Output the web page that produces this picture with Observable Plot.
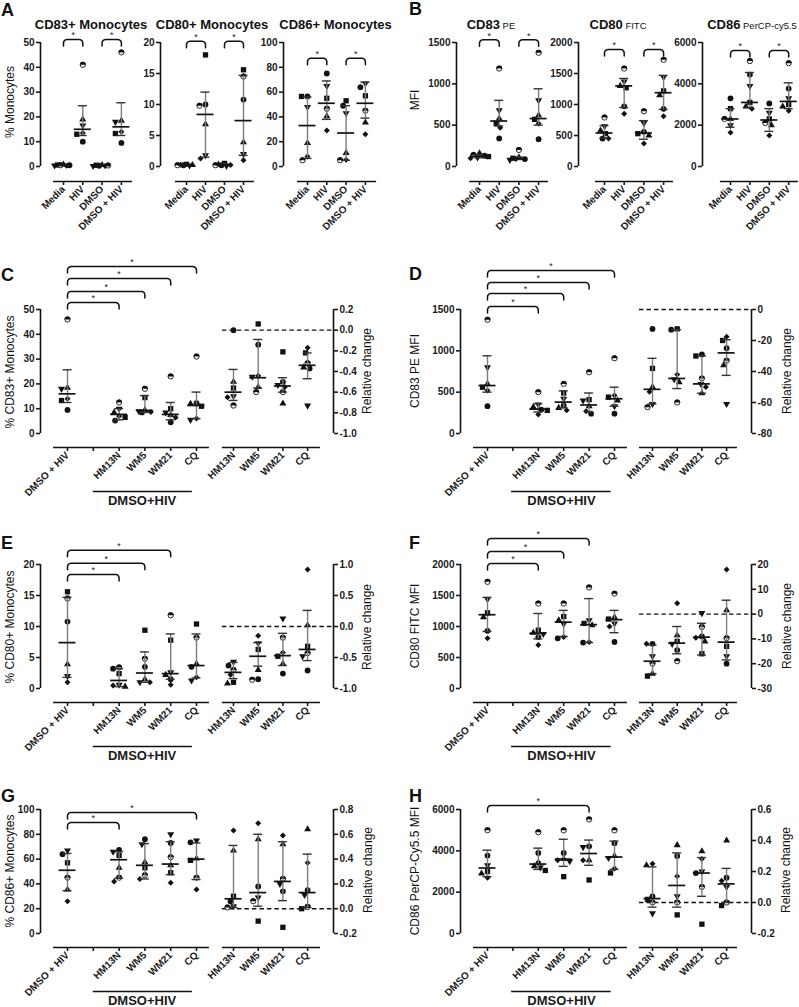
<!DOCTYPE html>
<html><head><meta charset="utf-8">
<script src="https://cdn.jsdelivr.net/npm/d3@7"></script>
<script src="https://cdn.jsdelivr.net/npm/@observablehq/plot@0.6"></script>
<style>
body{margin:0;background:#fff;}
#root{position:relative;width:799px;height:1007px;overflow:hidden;font-family:"Liberation Sans",Arial,Helvetica,sans-serif;}
#root svg{position:absolute;overflow:visible;}
</style></head><body><div id="root"></div>
<script>
// ---------- DATA ----------
// donor order in every value row: circle, square, triangle, triangle-down, diamond, half-filled circle
const donors = ["circle","square","triangle","triangleDown","diamond","half"];

const catsA = ["Media","HIV","DMSO","DMSO + HIV"];
const catsLeft = ["DMSO + HIV","","HM13N","WM5","WM21","CQ"];
const catsRight = ["HM13N","WM5","WM21","CQ"];

const ticksA83 = [0,10,20,30,40,50];
const ticksA80 = [0,5,10,15,20];
const ticksA86 = [0,20,40,60,80,100];
const ticksB83 = [0,500,1000,1500];
const ticksB80 = [0,500,1000,1500,2000];
const ticksB86 = [0,2000,4000,6000];
const ticksC = [0,10,20,30,40,50];
const ticksCr = [-1.0,-0.8,-0.6,-0.4,-0.2,0.0,0.2];
const ticksD = [0,500,1000,1500];
const ticksDr = [-80,-60,-40,-20,0];
const ticksE = [0,5,10,15,20];
const ticksEr = [-1.0,-0.5,0.0,0.5,1.0];
const ticksF = [0,500,1000,1500,2000];
const ticksFr = [-30,-20,-10,0,10,20];
const ticksG = [0,20,40,60,80,100];
const ticksGr = [-0.2,0.0,0.2,0.4,0.6,0.8];
const ticksH = [0,2000,4000,6000];
const ticksHr = [-0.2,0.0,0.2,0.4,0.6];

// Panel A
const a83 = [[0.5,0.6,0.8,0.4,0.3,0.5],[10,13,19,16.5,13.5,41],[0.3,0.5,0.6,0.2,0.2,0.4],[9.5,13.3,18.5,18,14,46]];
const a83Mid = [0.5,15,0.35,16], a83Lo = [0.3,12.5,0.2,12.5], a83Hi = [0.7,24.5,0.5,25.7];
const a80 = [[0.2,0.35,0.25,0.15,0.3,0.2],[10,18,6.8,1.8,1.3,9.8],[0.2,0.5,0.3,0.1,0.25,0.2],[10.8,15.6,3.9,2,1,14.5]];
const a80Mid = [0.25,8.4,0.25,7.4], a80Lo = [0.15,1.5,0.15,1.8], a80Hi = [0.3,12,0.4,14.7];
const a86 = [[56.5,56.5,19,48,8,5],[75,55,40.5,65,29,46.5],[49,53,11,43,5.5,5],[64,57,35.5,67,26,45]];
const a86Mid = [33,51,27,51], a86Lo = [6.5,38,5,39], a86Hi = [56,69,49,68];
// Panel B
const b83 = [[130,120,160,110,100,140],[340,520,580,680,470,1185],[90,100,110,80,90,200],[330,570,620,800,520,1375]];
const b83Mid = [125,550,95,580], b83Lo = [105,490,85,500], b83Hi = [145,800,115,940];
const b80 = [[450,530,580,650,450,790],[970,1270,1300,1370,850,1580],[560,530,500,700,370,890],[930,1220,1150,1440,810,1720]];
const b80Mid = [540,1300,540,1190], b80Lo = [460,950,440,920], b80Hi = [660,1420,740,1470];
const b86 = [[3300,2800,2300,2000,1650,2300],[4450,3100,2900,3900,2800,5100],[3050,2300,2000,2600,1500,2100],[3770,3000,2900,3300,2700,5000]];
const b86Mid = [2300,3100,2250,3150], b86Lo = [1900,2850,1700,2800], b86Hi = [2800,4550,2800,4050];
// Panel C
const c83 = [[9.5,13.3,18.5,18,14,46],null,[5.2,6.5,8.5,10,7,12.5],[8.5,14.5,9.5,9,8.7,18],[4.5,10,7.5,8.5,6.5,23],[12.2,11,12,5.5,6,31]];
const c83Mid = [16,null,7.7,9.3,7.7,11.3], c83Lo = [12.5,null,5.5,8.5,5.5,6], c83Hi = [25.7,null,10,15.3,12.5,16.7];
const c83r = [[0.0,-0.56,-0.5,-0.64,-0.65,-0.73],[-0.14,0.06,-0.55,-0.45,-0.44,-0.6],[-0.5,-0.21,-0.71,-0.53,-0.55,-0.6],[-0.37,-0.22,-0.36,-0.73,-0.17,-0.32]];
const c83rMid = [-0.6,-0.46,-0.54,-0.34], c83rLo = [-0.68,-0.56,-0.6,-0.47], c83rHi = [-0.38,-0.09,-0.46,-0.22];
// Panel D
const d83 = [[330,560,600,800,520,1375],null,[290,280,320,350,230,500],[340,490,310,420,280,600],[240,410,330,400,270,740],[240,440,400,330,460,910]];
const d83Mid = [580,null,295,380,345,420], d83Lo = [500,null,260,310,260,330], d83Hi = [940,null,360,515,490,560];
const d83r = [[-12.5,-38,-50,-61,-53,-63],[-13,-12.5,-47,-45,-42,-60],[-29,-30,-54,-48,-50,-44.5],[-25,-20,-36,-61,-17.5,-33]];
const d83rMid = [-51.5,-44.5,-48,-28], d83rLo = [-61,-51,-54,-42.5], d83rHi = [-31.5,-13,-30,-19.5];
// Panel E
const e80 = [[10.8,15.6,3.9,2,1,14.5],null,[3.2,2.4,0.3,0.6,0.5,3.4],[3.5,9.4,1.5,1,1,4.8],[1.5,7.8,2.2,2.6,0.6,11.8],[3.5,10.4,4,1.3,1.8,8.2]];
const e80Mid = [7.4,null,1.3,2.5,2.4,3.7], e80Lo = [1.8,null,0.3,1,1.5,1.7], e80Hi = [14.7,null,3.2,5.9,8.8,8.8];
const e80r = [[-0.63,-0.9,-0.92,-0.57,-0.78,-0.7],[-0.85,-0.37,-0.7,-0.27,-0.15,-0.86],[-0.76,-0.48,-0.6,0.13,-0.42,-0.18],[-0.71,-0.32,0.02,-0.48,0.92,-0.43]];
const e80rMid = [-0.74,-0.48,-0.47,-0.37], e80rLo = [-0.84,-0.64,-0.63,-0.55], e80rHi = [-0.58,-0.26,-0.11,0.26];
// Panel F
const f80 = [[930,1220,1150,1440,810,1720],null,[830,940,900,880,700,1370],[810,1160,1100,1040,830,1370],[740,1050,1020,1100,750,1630],[750,1120,1150,1050,1000,1530]];
const f80Mid = [1190,null,890,1070,1030,1110], f80Lo = [920,null,800,840,740,900], f80Hi = [1470,null,1210,1260,1450,1260];
const f80r = [[-12,-25,-24,-17,-12,-20],[-14.5,-11,-8.5,-12,4.4,-19],[-9,-16,-11,0.4,-9.5,-5.2],[-20,-13,1.6,-17,18,-9.7]];
const f80rMid = [-19,-11.7,-9.3,-11.3], f80rLo = [-24,-16,-16.5,-18.5], f80rHi = [-12.5,-5,-3.7,5.6];
// Panel G
const g86 = [[64,57,35.5,67,26,45],null,[67.5,63,53,66,42,45],[76,53,57.5,72,44,47],[73,49,55,80,41,61.5],[73.5,59,60.5,75,35.5,45]];
const g86Mid = [51,null,59.5,55,56,60], g86Lo = [34.5,null,44.5,44,47.5,43.5], g86Hi = [64.5,null,66,72.5,74,73];
const g86r = [[0.06,0.1,0.47,0.02,0.63,0.01],[0.18,-0.1,0.56,0.09,0.69,0.06],[0.14,-0.15,0.52,0.2,0.59,0.24],[0.15,0.0,0.64,0.11,0.37,0.015]];
const g86rMid = [0.08,0.13,0.22,0.13], g86rLo = [0.01,0.02,0.065,0.01], g86rHi = [0.51,0.6,0.54,0.44];
// Panel H
const h86 = [[3770,3000,2900,3300,2700,5000],null,[3900,3050,3250,3200,3450,4900],[3900,2750,3600,3500,3550,4990],[4220,2590,3550,4180,3550,5520],[4370,2930,3750,3650,3150,4990]];
const h86Mid = [3170,null,3360,3600,3870,3700], h86Lo = [2750,null,3100,3250,3300,3100], h86Hi = [4030,null,4130,4560,4520,4470];
const h86r = [[0.04,0.02,0.24,-0.07,0.25,0.0],[0.3,-0.08,0.37,0.04,0.17,0.0],[0.19,-0.14,0.33,0.2,0.28,0.1],[0.16,-0.02,0.4,0.1,0.14,0.0]];
const h86rMid = [0.025,0.11,0.19,0.12], h86rLo = [-0.03,-0.03,0.04,0.0], h86rHi = [0.23,0.32,0.29,0.22];

// significance brackets: [from category, to category, level in data units]
const brA83 = [[0,1,51.2],[2,3,51.2]];
const brA80 = [[0,1,20.2],[2,3,20.2]];
const brA86 = [[0,1,87.3],[2,3,87.3]];
const brB83 = [[0,1,1533],[2,3,1533]];
const brB80 = [[0,1,1887],[2,3,1887]];
const brB86 = [[0,1,5614],[2,3,5614]];
const brC = [[0,2,52.8],[0,3,57.3],[0,4,62.5],[0,5,67.3]];
const brD = [[0,2,1537],[0,3,1694],[0,4,1827],[0,5,1972]];
const brE = [[0,2,18.4],[0,3,20.2],[0,4,22.3]];
const brF = [[0,2,2016],[0,3,2210],[0,4,2420]];
const brG = [[0,2,89.5],[0,5,97.6]];
const brH = [[0,4,6190]];

// ---------- RENDERING ----------
const FONT = '"Liberation Sans", Arial, Helvetica, sans-serif';
const root = document.getElementById("root");
const s3 = Math.sqrt(3);
const triDown = {draw(ctx, size){ const y = -Math.sqrt(size/(s3*3)); ctx.moveTo(0,-y*2); ctx.lineTo(-s3*y,y); ctx.lineTo(s3*y,y); ctx.closePath(); }};
const halfTop = {draw(ctx, size){ const r = Math.sqrt(size/Math.PI); ctx.moveTo(-r,0); ctx.arc(0,0,r,Math.PI,2*Math.PI); ctx.closePath(); }};
const symOf = {circle:"circle", square:"square", triangle:"triangle", triangleDown: triDown, diamond:"diamond2"};
const rOf = {circle:2.9, square:3.0, triangle:2.6, triangleDown:2.6, diamond:2.7};
const fmt1 = d => d.toFixed(1), fmt0 = d => d.toFixed(0);

function swarm(vals, pxPerUnit) {
  const d = 5.5, off = vals.map(() => 0), placed = [];
  const order = vals.map((v,i) => i).sort((a,b) => vals[b]-vals[a]);
  const cands = [0]; for (let k=1;k<=9;k++){ cands.push(-k, k); }
  for (const i of order) {
    const py = vals[i]*pxPerUnit;
    let best = 0, bestD = -1;
    for (const c of cands) {
      const md = placed.length ? Math.min(...placed.map(p => Math.hypot(p.x-c, p.y-py))) : Infinity;
      if (md >= d) { best = c; bestD = Infinity; break; }
      if (md > bestD) { bestD = md; best = c; }
    }
    off[i] = best; placed.push({x: best, y: py});
  }
  return off;
}

function panel(cfg) {
  const {axisPx, side, cat0Px, stepPx, xLine, topPx, yMin, yMax, yTicks, fmt = fmt0, cats, values, mid, lo, hi,
         brackets = [], dashed = null, group = null, offset = 14} = cfg;
  const dataH = 124, upp = (yMax - yMin)/dataH;
  const yB = yMin - offset*upp;
  const mT = 60, mB = 90, mL = 50, mR = 50;
  const xlPx = cat0Px + xLine[0]*stepPx, xrPx = cat0Px + xLine[1]*stepPx;
  const leftPx = Math.round(side === "left" ? axisPx : xlPx - 2);
  const rightPx = Math.round(side === "left" ? xrPx + 2 : axisPx);
  const xL = (leftPx - cat0Px)/stepPx, xR = (rightPx - cat0Px)/stepPx;
  const width = rightPx - leftPx + mL + mR, height = mT + dataH + offset + mB;

  const pts = [];
  values.forEach((vals, ci) => {
    if (!vals) return;
    const off = swarm(vals, 1/upp);
    vals.forEach((v, di) => pts.push({x: ci + off[di]/stepPx, y: v, donor: donors[di]}));
  });
  const stats = [];
  mid.forEach((m, ci) => { if (m != null) stats.push({x: ci, mid: m, lo: lo[ci], hi: hi[ci]}); });
  const capW = 4.5/stepPx, medW = 8.5/stepPx;

  const marks = [];
  marks.push(Plot.ruleX([side === "left" ? xL : xR], {y1: yMin, y2: yMax, stroke: "#111", strokeWidth: 1.6}));
  marks.push(Plot.axisY({anchor: side, ticks: yTicks, tickFormat: fmt, tickSize: 4, tickPadding: 2, strokeWidth: 1.6, label: null, fontWeight: "bold", fontSize: 10}));
  marks.push(Plot.ruleY([yB], {x1: xLine[0], x2: xLine[1], stroke: "#111", strokeWidth: 1.6}));
  marks.push(Plot.axisX({ticks: d3.range(cats.length), tickFormat: i => cats[Math.round(i)], tickRotate: -45, tickSize: 4, tickPadding: 2, strokeWidth: 1.6, label: null, fontWeight: "bold", fontSize: 10}));
  if (dashed != null) marks.push(Plot.ruleY([0], {x1: dashed, x2: xR, stroke: "#111", strokeWidth: 1.4, strokeDasharray: "4.5,3"}));
  for (const dn of donors) {
    const sub = pts.filter(p => p.donor === dn);
    if (dn === "half") {
      marks.push(Plot.dot(sub, {x: "x", y: "y", r: 2.6, fill: "white", stroke: "#111", strokeWidth: 0.9}));
      marks.push(Plot.dot(sub, {x: "x", y: "y", r: 3.0, symbol: halfTop, fill: "#111"}));
    } else {
      marks.push(Plot.dot(sub, {x: "x", y: "y", r: rOf[dn], symbol: symOf[dn], fill: "#111"}));
    }
  }
  marks.push(Plot.ruleX(stats, {x: "x", y1: "lo", y2: "hi", stroke: "#7d7d7d", strokeWidth: 1.4}));
  marks.push(Plot.ruleY(stats, {y: "lo", x1: d => d.x - capW, x2: d => d.x + capW, stroke: "#333", strokeWidth: 1.4}));
  marks.push(Plot.ruleY(stats, {y: "hi", x1: d => d.x - capW, x2: d => d.x + capW, stroke: "#333", strokeWidth: 1.4}));
  marks.push(Plot.ruleY(stats, {y: "mid", x1: d => d.x - medW, x2: d => d.x + medW, stroke: "#111", strokeWidth: 1.7}));

  const bpts = [];
  const rx = 3.5/stepPx, ry = 3.5*upp, tipD = 6.5*upp;
  brackets.forEach(([i, j, lev], k) => {
    bpts.push({k, x: i, y: lev - tipD});
    for (let t = 0; t <= 6; t++) { const a = Math.PI - (Math.PI/2)*t/6; bpts.push({k, x: i + rx + rx*Math.cos(a), y: lev - ry + ry*Math.sin(a)}); }
    for (let t = 0; t <= 6; t++) { const a = Math.PI/2 - (Math.PI/2)*t/6; bpts.push({k, x: j - rx + rx*Math.cos(a), y: lev - ry + ry*Math.sin(a)}); }
    bpts.push({k, x: j, y: lev - tipD});
  });
  if (bpts.length) {
    marks.push(Plot.line(bpts, {x: "x", y: "y", z: "k", stroke: "#111", strokeWidth: 1.5}));
    marks.push(Plot.text(brackets, {x: b => (b[0]+b[1])/2, y: b => b[2], text: () => "*", dy: -4, fontSize: 9, fontWeight: "normal"}));
  }
  if (group) {
    marks.push(Plot.ruleY([yB], {x1: group.from, x2: group.to, dy: 44, stroke: "#111", strokeWidth: 1.5}));
    marks.push(Plot.text([group.label], {x: group.center, y: yB, dy: 53, text: d => d, fontSize: 13, fontWeight: "bold"}));
  }

  const svg = Plot.plot({
    width, height, marginTop: mT, marginBottom: mB, marginLeft: mL, marginRight: mR,
    x: {domain: [xL, xR]}, y: {domain: [yB, yMax]},
    style: {fontFamily: FONT, fontSize: "10px", fontWeight: "bold", color: "#1a1a1a", background: "transparent", overflow: "visible"},
    marks
  });
  svg.style.left = (leftPx - mL) + "px";
  svg.style.top = (topPx - mT) + "px";
  root.appendChild(svg);
}

const grpC = {from: 1, to: 4.84, center: 2.89, label: "DMSO+HIV"};
const grpD = {from: 0.95, to: 4.87, center: 2.91, label: "DMSO+HIV"};
const LEFT_C = {axisPx: 40, side: "left", cat0Px: 67, stepPx: 25.8, xLine: [-0.54, 5.5], cats: catsLeft, group: grpC};
const RIGHT_C = {axisPx: 333, side: "right", cat0Px: 233, stepPx: 24.7, xLine: [-0.45, 3.52], cats: catsRight, dashed: -0.45, fmt: fmt1};
const LEFT_D = {axisPx: 460, side: "left", cat0Px: 487, stepPx: 25.4, xLine: [-0.55, 5.51], cats: catsLeft, group: grpD};
const RIGHT_D = {axisPx: 751, side: "right", cat0Px: 652, stepPx: 24.7, xLine: [-0.53, 3.44], cats: catsRight, dashed: -0.53};

// Row A / B
panel({axisPx: 40, side: "left", cat0Px: 63, stepPx: 19.3, xLine: [-0.52, 3.57], topPx: 42, yMin: 0, yMax: 50, yTicks: ticksA83, cats: catsA, values: a83, mid: a83Mid, lo: a83Lo, hi: a83Hi, brackets: brA83, offset: 15});
panel({axisPx: 160, side: "left", cat0Px: 186, stepPx: 19, xLine: [-0.58, 3.58], topPx: 42, yMin: 0, yMax: 20, yTicks: ticksA80, cats: catsA, values: a80, mid: a80Mid, lo: a80Lo, hi: a80Hi, brackets: brA80, offset: 15});
panel({axisPx: 283, side: "left", cat0Px: 307, stepPx: 19.3, xLine: [-0.52, 3.58], topPx: 42, yMin: 0, yMax: 100, yTicks: ticksA86, cats: catsA, values: a86, mid: a86Mid, lo: a86Lo, hi: a86Hi, brackets: brA86, offset: 15});
panel({axisPx: 456, side: "left", cat0Px: 479, stepPx: 19.7, xLine: [-0.5, 3.5], topPx: 42, yMin: 0, yMax: 1500, yTicks: ticksB83, cats: catsA, values: b83, mid: b83Mid, lo: b83Lo, hi: b83Hi, brackets: brB83, offset: 15});
panel({axisPx: 578, side: "left", cat0Px: 604, stepPx: 19.7, xLine: [-0.46, 3.5], topPx: 42, yMin: 0, yMax: 2000, yTicks: ticksB80, cats: catsA, values: b80, mid: b80Mid, lo: b80Lo, hi: b80Hi, brackets: brB80, offset: 15});
panel({axisPx: 702, side: "left", cat0Px: 730, stepPx: 19.4, xLine: [-0.52, 3.5], topPx: 42, yMin: 0, yMax: 6000, yTicks: ticksB86, cats: catsA, values: b86, mid: b86Mid, lo: b86Lo, hi: b86Hi, brackets: brB86, offset: 15});
// Rows C-H
panel({...LEFT_C, topPx: 309, yMin: 0, yMax: 50, yTicks: ticksC, values: c83, mid: c83Mid, lo: c83Lo, hi: c83Hi, brackets: brC});
panel({...RIGHT_C, topPx: 309, yMin: -1, yMax: 0.2, yTicks: ticksCr, values: c83r, mid: c83rMid, lo: c83rLo, hi: c83rHi});
panel({...LEFT_D, topPx: 309, yMin: 0, yMax: 1500, yTicks: ticksD, values: d83, mid: d83Mid, lo: d83Lo, hi: d83Hi, brackets: brD});
panel({...RIGHT_D, topPx: 309, yMin: -80, yMax: 0, yTicks: ticksDr, values: d83r, mid: d83rMid, lo: d83rLo, hi: d83rHi});
panel({...LEFT_C, topPx: 564, yMin: 0, yMax: 20, yTicks: ticksE, values: e80, mid: e80Mid, lo: e80Lo, hi: e80Hi, brackets: brE});
panel({...RIGHT_C, topPx: 564, yMin: -1, yMax: 1, yTicks: ticksEr, values: e80r, mid: e80rMid, lo: e80rLo, hi: e80rHi});
panel({...LEFT_D, topPx: 564, yMin: 0, yMax: 2000, yTicks: ticksF, values: f80, mid: f80Mid, lo: f80Lo, hi: f80Hi, brackets: brF});
panel({...RIGHT_D, topPx: 564, yMin: -30, yMax: 20, yTicks: ticksFr, values: f80r, mid: f80rMid, lo: f80rLo, hi: f80rHi});
panel({...LEFT_C, topPx: 809, yMin: 0, yMax: 100, yTicks: ticksG, values: g86, mid: g86Mid, lo: g86Lo, hi: g86Hi, brackets: brG});
panel({...RIGHT_C, topPx: 809, yMin: -0.2, yMax: 0.8, yTicks: ticksGr, values: g86r, mid: g86rMid, lo: g86rLo, hi: g86rHi});
panel({...LEFT_D, topPx: 809, yMin: 0, yMax: 6000, yTicks: ticksH, values: h86, mid: h86Mid, lo: h86Lo, hi: h86Hi, brackets: brH});
panel({...RIGHT_D, topPx: 809, yMin: -0.2, yMax: 0.6, yTicks: ticksHr, fmt: fmt1, values: h86r, mid: h86rMid, lo: h86rLo, hi: h86rHi});

// ---------- TEXT (letters, titles, axis titles) ----------
const letters = [["A",1,16],["B",409,15],["C",1,281],["D",409,280],["E",1,549],["F",409,549],["G",1,802],["H",409,802]];
const titles = [[["CD83+ Monocytes"],91],[["CD80+ Monocytes"],212],[["CD86+ Monocytes"],335.5],[["CD83"," PE"],491],[["CD80"," FITC"],618],[["CD86"," PerCP-cy5.5"],752]];
const yLabels = [["% Monocytes",10,102],["MFI",415,100],["% CD83+ Monocytes",10,372],["CD83 PE MFI",415,371],
  ["% CD80+ Monocytes",10,627],["CD80 FITC MFI",415,626],["% CD86+ Monocytes",10,871],["CD86 PerCP-Cy5.5 MFI",415,871],
  ["Relative change",367,371],["Relative change",787,371],["Relative change",367,627],["Relative change",787,626],
  ["Relative change",368,870],["Relative change",786,870]];

const ov = d3.select(root).append("svg").attr("width",799).attr("height",1007).style("left","0px").style("top","0px")
  .style("font-family", FONT).style("pointer-events","none");
ov.selectAll("text.l").data(letters).join("text").attr("x", d => d[1]).attr("y", d => d[2])
  .attr("font-size", 18).attr("font-weight", "bold").attr("fill", "#111").text(d => d[0]);
const tt = ov.selectAll("text.t").data(titles).join("text").attr("x", d => d[1]).attr("y", 29)
  .attr("text-anchor", "middle").attr("fill", "#111");
tt.each(function(d){
  const t = d3.select(this);
  t.append("tspan").attr("font-size", 13).attr("font-weight", "bold").text(d[0][0]);
  if (d[0][1]) t.append("tspan").attr("font-size", 9.5).attr("font-weight", "normal").text(d[0][1]);
});
ov.selectAll("text.y").data(yLabels).join("text").attr("transform", d => `translate(${d[1]},${d[2]}) rotate(-90)`)
  .attr("text-anchor", "middle").attr("dominant-baseline", "central").attr("font-size", 12).attr("fill", "#111").text(d => d[0]);
</script></body></html>
